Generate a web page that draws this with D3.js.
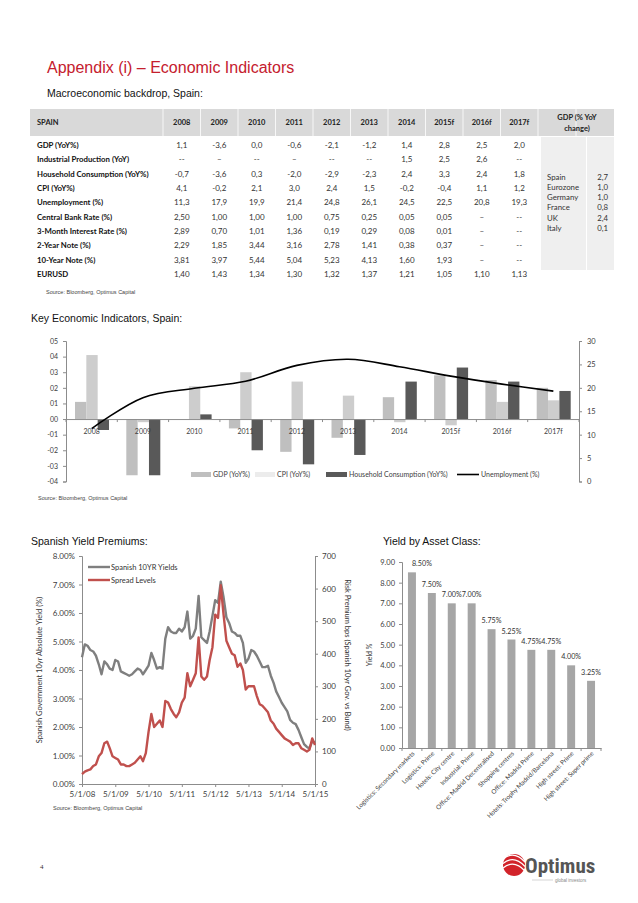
<!DOCTYPE html>
<html>
<head>
<meta charset="utf-8">
<script src="https://cdn.jsdelivr.net/npm/d3@7"></script>
<style>
body { margin: 0; background: #fff; }
svg { display: block; }
</style>
</head>
<body>
<svg id="root" width="638" height="903"></svg>
<script>
// ---- table data (as printed, decimal commas) ----
const years = ["2008", "2009", "2010", "2011", "2012", "2013", "2014", "2015f", "2016f", "2017f"];
const rowNames = [
    "GDP (YoY%)", "Industrial Production (YoY)", "Household Consumption (YoY%)", "CPI (YoY%)",
    "Unemployment (%)", "Central Bank Rate (%)", "3-Month Interest Rate (%)", "2-Year Note (%)",
    "10-Year Note (%)", "EURUSD",
];
const gdpRow = ["1,1", "-3,6", "0,0", "-0,6", "-2,1", "-1,2", "1,4", "2,8", "2,5", "2,0"];
const indRow = ["--", "–", "--", "–", "--", "--", "1,5", "2,5", "2,6", "--"];
const hhRow = ["-0,7", "-3,6", "0,3", "-2,0", "-2,9", "-2,3", "2,4", "3,3", "2,4", "1,8"];
const cpiRow = ["4,1", "-0,2", "2,1", "3,0", "2,4", "1,5", "-0,2", "-0,4", "1,1", "1,2"];
const unempRow = ["11,3", "17,9", "19,9", "21,4", "24,8", "26,1", "24,5", "22,5", "20,8", "19,3"];
const cbRow = ["2,50", "1,00", "1,00", "1,00", "0,75", "0,25", "0,05", "0,05", "–", "--"];
const m3Row = ["2,89", "0,70", "1,01", "1,36", "0,19", "0,29", "0,08", "0,01", "–", "--"];
const y2Row = ["2,29", "1,85", "3,44", "3,16", "2,78", "1,41", "0,38", "0,37", "–", "--"];
const y10Row = ["3,81", "3,97", "5,44", "5,04", "5,23", "4,13", "1,60", "1,93", "–", "--"];
const eurRow = ["1,40", "1,43", "1,34", "1,30", "1,32", "1,37", "1,21", "1,05", "1,10", "1,13"];
const gdpCountries = ["Spain", "Eurozone", "Germany", "France", "UK", "Italy"];
const gdpCountryValues = ["2,7", "1,0", "1,0", "0,8", "2,4", "0,1"];

// ---- key indicators chart ----
const leftTicks = [5, 4, 3, 2, 1, 0, -1, -2, -3, -4];
const rightTicks = [30, 25, 20, 15, 10, 5, 0];

// ---- yield premiums (monthly readings, May 2008 .. May 2015) ----
const yieldStart = "2008-05-01";
const spanishYield = [
    4.45, 4.90, 4.85, 4.70, 4.65, 4.50, 4.20, 3.85,
    4.30, 4.20, 4.05, 4.00, 4.35, 4.30, 3.95, 3.90, 3.85, 3.80, 3.85, 3.95,
    4.05, 4.00, 3.85, 4.00, 4.15, 4.60, 4.35, 4.05, 4.10, 4.05, 5.10, 5.50,
    5.35, 5.30, 5.30, 5.45, 5.35, 5.50, 6.05, 5.10, 5.20, 5.45, 6.60, 5.15,
    5.05, 4.95, 5.35, 5.90, 6.45, 6.35, 7.10, 6.55, 5.85, 5.65, 5.35, 5.30,
    5.20, 5.20, 4.95, 4.25, 4.40, 4.70, 4.65, 4.50, 4.30, 4.10, 4.10, 4.15,
    3.80, 3.55, 3.25, 3.05, 2.85, 2.70, 2.55, 2.25, 2.15, 2.10, 1.90, 1.65,
    1.40, 1.30, 1.25, 1.50, 1.45,
];
const spreadLevels = [
    30, 38, 42, 45, 55, 60, 85, 95,
    125, 130, 110, 85, 80, 75, 60, 60, 55, 55, 60, 65,
    75, 85, 70, 95, 160, 215, 175, 185, 195, 175, 255, 250,
    230, 215, 205, 220, 250, 265, 340, 300, 320, 340, 450, 330,
    320, 330, 380, 420, 520, 510, 610, 520, 440, 420, 400, 395,
    360, 370, 350, 290, 300, 300, 300, 270, 245, 240, 230, 220,
    195, 185, 170, 160, 150, 140, 135, 130, 120, 125, 125, 110,
    105, 100, 105, 140, 120,
];
const yieldTicks = [0, 1, 2, 3, 4, 5, 6, 7, 8];
const spreadTicks = [0, 100, 200, 300, 400, 500, 600, 700];

// ---- yield by asset class ----
const assetClasses = [
    "Logistics: Secondary markets", "Logistics: Prime", "Hotels: City centre", "Industrial: Prime",
    "Office: Madrid Decentralised", "Shopping centres", "Office: Madrid Prime",
    "Hotels: Trophy Madrid/Barcelona", "High street: Prime", "High street: Super prime",
];
const assetYields = [8.5, 7.5, 7.0, 7.0, 5.75, 5.25, 4.75, 4.75, 4.0, 3.25];
const assetTicks = [0, 1, 2, 3, 4, 5, 6, 7, 8, 9];

const toNum = (s) => +s.replace(",", ".");
const HEAD = "'Liberation Sans', Arial, sans-serif";
const BODY = "Lato, 'Open Sans', sans-serif";
const RED = "#c5202e";

const svg = d3.select("#root");
svg.append("rect").attr("width", 638).attr("height", 903).attr("fill", "#fff");

const text = (x, y, s, size, opts = {}) =>
    svg.append("text")
        .attr("x", x).attr("y", y)
        .attr("font-family", opts.family || BODY)
        .attr("font-size", size)
        .attr("font-weight", opts.weight || "normal")
        .attr("fill", opts.fill || "#222")
        .attr("text-anchor", opts.anchor || "start")
        .text(s);

const styleAxis = (g, size = 7.5) => {
    g.select(".domain").attr("stroke", "#8c8c8c");
    g.selectAll(".tick line").attr("stroke", "#8c8c8c");
    g.selectAll("text").attr("font-family", BODY).attr("font-size", size).attr("fill", "#404040");
};

// ---------- headings ----------
text(47, 73, "Appendix (i) – Economic Indicators", 16, { family: HEAD, fill: RED });
text(47, 97, "Macroeconomic backdrop, Spain:", 10.5, { family: HEAD, fill: "#111" });

// ---------- table ----------
const colX = d3.scaleBand().domain(years).range([163, 538]);
const colC = (y) => colX(y) + colX.bandwidth() / 2;

svg.append("rect").attr("x", 30).attr("y", 109).attr("width", 584).attr("height", 27).attr("fill", "#d9d9d9");
[163, ...years.map((y) => colX(y) + colX.bandwidth()), 576].forEach((x) =>
    svg.append("line").attr("x1", x).attr("x2", x).attr("y1", 109).attr("y2", 136)
        .attr("stroke", "#fff").attr("stroke-width", 0.8)
);
svg.append("rect").attr("x", 541).attr("y", 137).attr("width", 45).attr("height", 133).attr("fill", "#efefef");
svg.append("rect").attr("x", 587).attr("y", 137).attr("width", 27).attr("height", 133).attr("fill", "#efefef");

text(37, 125, "SPAIN", 7.5, { weight: "bold" });
years.forEach((y) => text(colC(y), 125, y, 7.5, { weight: "bold", anchor: "middle" }));
text(577, 120, "GDP (% YoY", 7.5, { weight: "bold", anchor: "middle" });
text(577, 131, "change)", 7.5, { weight: "bold", anchor: "middle" });

const tableRows = [gdpRow, indRow, hhRow, cpiRow, unempRow, cbRow, m3Row, y2Row, y10Row, eurRow];
const rowY = d3.scalePoint().domain(d3.range(rowNames.length)).range([148, 277]);
rowNames.forEach((name, i) => {
    text(37, rowY(i), name, 7.8, { weight: "bold", fill: "#111" });
    tableRows[i].forEach((v, j) => text(colC(years[j]), rowY(i), v, 8, { anchor: "middle", fill: "#333" }));
});

const cY = d3.scalePoint().domain(gdpCountries).range([179.5, 231]);
gdpCountries.forEach((c, i) => {
    text(547, cY(c), c, 7.8, { fill: "#333" });
    text(608, cY(c), gdpCountryValues[i], 7.8, { fill: "#333", anchor: "end" });
});

text(46, 294, "Source: Bloomberg, Optimus Capital", 5.5, { family: HEAD, fill: "#444" });

// ---------- key economic indicators ----------
text(31, 322, "Key Economic Indicators, Spain:", 10.5, { family: HEAD, fill: "#111" });

const x0 = d3.scaleBand().domain(years).range([66, 579]);
const x1 = d3.scaleBand().domain(["gdp", "cpi", "hh"]).range([9, 43]);
const yL = d3.scaleLinear().domain([-4, 5]).range([481.5, 341]);
const yR = d3.scaleLinear().domain([0, 30]).range([481.5, 341]);

const gL = svg.append("g").attr("transform", "translate(66,0)")
    .call(d3.axisLeft(yL).tickValues(leftTicks).tickSize(3).tickPadding(5)
        .tickFormat((d) => (d < 0 ? "-" : "") + "0" + Math.abs(d)));
styleAxis(gL, 7);
const gR = svg.append("g").attr("transform", "translate(579,0)")
    .call(d3.axisRight(yR).tickValues(rightTicks).tickSize(3).tickPadding(5));
styleAxis(gR, 7.5);

const series = [
    { key: "gdp", vals: gdpRow.map(toNum), color: "#bfbfbf" },
    { key: "cpi", vals: cpiRow.map(toNum), color: "#cdcdcd" },
    { key: "hh", vals: hhRow.map(toNum), color: "#595959" },
];
series.forEach((s) => {
    svg.append("g").selectAll("rect")
        .data(s.vals)
        .join("rect")
        .attr("x", (d, i) => x0(years[i]) + x1(s.key))
        .attr("y", (d) => yL(Math.max(0, d)))
        .attr("width", x1.bandwidth())
        .attr("height", (d) => Math.abs(yL(d) - yL(0)))
        .attr("fill", s.color);
});

// zero line with category labels
const gX = svg.append("g").attr("transform", `translate(0,${yL(0)})`)
    .call(d3.axisBottom(x0).tickSize(0).tickPadding(10));
styleAxis(gX, 7);
svg.append("g").selectAll("line")
    .data([...years.map((y) => x0(y)), 579])
    .join("line")
    .attr("x1", (d) => d).attr("x2", (d) => d)
    .attr("y1", yL(0)).attr("y2", yL(0) + 3)
    .attr("stroke", "#8c8c8c");

const unemp = unempRow.map(toNum);
svg.append("path")
    .datum(unemp)
    .attr("fill", "none")
    .attr("stroke", "#000")
    .attr("stroke-width", 1.6)
    .attr("d", d3.line()
        .x((d, i) => x0(years[i]) + x0.bandwidth() / 2)
        .y((d) => yR(d))
        .curve(d3.curveCatmullRom));

// legend
const lg = svg.append("g").attr("font-family", BODY).attr("font-size", 7).attr("fill", "#404040");
lg.append("rect").attr("x", 191).attr("y", 472).attr("width", 20).attr("height", 5).attr("fill", "#bfbfbf");
lg.append("text").attr("x", 213).attr("y", 477).text("GDP (YoY%)");
lg.append("rect").attr("x", 255).attr("y", 472).attr("width", 20).attr("height", 5).attr("fill", "#ececec");
lg.append("text").attr("x", 277).attr("y", 477).text("CPI (YoY%)");
lg.append("rect").attr("x", 326).attr("y", 472).attr("width", 21).attr("height", 5).attr("fill", "#595959");
lg.append("text").attr("x", 349).attr("y", 477).text("Household Consumption (YoY%)");
lg.append("line").attr("x1", 457).attr("x2", 479).attr("y1", 474.5).attr("y2", 474.5).attr("stroke", "#000").attr("stroke-width", 1.6);
lg.append("text").attr("x", 481).attr("y", 477).text("Unemployment (%)");

text(38, 500, "Source: Bloomberg, Optimus Capital", 5.5, { family: HEAD, fill: "#444" });

// ---------- spanish yield premiums ----------
text(31, 545, "Spanish Yield Premiums:", 10.5, { family: HEAD, fill: "#111" });

const start = new Date(yieldStart);
const months = spanishYield.map((_, i) => d3.timeMonth.offset(start, i));
const xT = d3.scaleTime().domain([new Date("2008-05-01"), new Date("2015-05-01")]).range([82, 315]);
const yY = d3.scaleLinear().domain([0, 8]).range([784, 556]);
const yS = d3.scaleLinear().domain([0, 700]).range([784, 556]);

const gYL = svg.append("g").attr("transform", "translate(82,0)")
    .call(d3.axisLeft(yY).tickValues(yieldTicks).tickSize(3).tickPadding(4).tickFormat((d) => d.toFixed(2) + "%"));
styleAxis(gYL, 8);
const gYR = svg.append("g").attr("transform", "translate(315,0)")
    .call(d3.axisRight(yS).tickValues(spreadTicks).tickSize(3).tickPadding(4));
styleAxis(gYR, 8);
const gYB = svg.append("g").attr("transform", "translate(0,784)")
    .call(d3.axisBottom(xT).tickValues(d3.range(8).map((i) => new Date(2008 + i, 4, 1)))
        .tickSize(3).tickPadding(4).tickFormat(d3.timeFormat("%-m/%-d/%y")));
styleAxis(gYB, 8);

svg.append("path").datum(spanishYield)
    .attr("fill", "none").attr("stroke", "#7f7f7f").attr("stroke-width", 2.4).attr("stroke-linejoin", "round")
    .attr("d", d3.line().x((d, i) => xT(months[i])).y((d) => yY(d)));
svg.append("path").datum(spreadLevels)
    .attr("fill", "none").attr("stroke", "#c0504d").attr("stroke-width", 2.4).attr("stroke-linejoin", "round")
    .attr("d", d3.line().x((d, i) => xT(months[i])).y((d) => yS(d)));

const lg2 = svg.append("g").attr("font-family", BODY).attr("font-size", 7.5).attr("fill", "#333");
lg2.append("line").attr("x1", 88).attr("x2", 110).attr("y1", 567).attr("y2", 567).attr("stroke", "#7f7f7f").attr("stroke-width", 2.4);
lg2.append("text").attr("x", 111).attr("y", 569.5).text("Spanish 10YR Yields");
lg2.append("line").attr("x1", 88).attr("x2", 110).attr("y1", 580).attr("y2", 580).attr("stroke", "#c0504d").attr("stroke-width", 2.4);
lg2.append("text").attr("x", 111).attr("y", 582.5).text("Spread Levels");

svg.append("text").attr("transform", "translate(42,670) rotate(-90)")
    .attr("text-anchor", "middle").attr("font-family", BODY).attr("font-size", 7.5).attr("fill", "#333")
    .text("Spanish Government 10yr Absolute Yield (%)");
svg.append("text").attr("transform", "translate(345,655) rotate(90)")
    .attr("text-anchor", "middle").attr("font-family", BODY).attr("font-size", 7.5).attr("fill", "#333")
    .text("Risk Premium bps (Spanish 10yr Gov. vs Bund)");

text(53, 810, "Source: Bloomberg, Optimus Capital", 5.5, { family: HEAD, fill: "#444" });

// ---------- yield by asset class ----------
text(383, 545, "Yield by Asset Class:", 10.5, { family: HEAD, fill: "#111" });

const xA = d3.scaleBand().domain(assetClasses).range([402, 601]).paddingInner(0.6).paddingOuter(0.3);
const yA = d3.scaleLinear().domain([0, 9]).range([748, 562]);

const gAL = svg.append("g").attr("transform", "translate(402,0)")
    .call(d3.axisLeft(yA).tickValues(assetTicks).tickSize(3).tickPadding(4).tickFormat((d) => d.toFixed(2)));
styleAxis(gAL, 7.5);
const gAB = svg.append("g").attr("transform", "translate(0,748)")
    .call(d3.axisBottom(xA).tickSize(0).tickFormat(""));
styleAxis(gAB);
svg.append("g").selectAll("line")
    .data(d3.range(assetClasses.length + 1))
    .join("line")
    .attr("x1", (i) => 402 + i * (199 / assetClasses.length))
    .attr("x2", (i) => 402 + i * (199 / assetClasses.length))
    .attr("y1", 748).attr("y2", 751).attr("stroke", "#8c8c8c");

svg.append("g").selectAll("rect")
    .data(assetYields)
    .join("rect")
    .attr("x", (d, i) => xA(assetClasses[i]))
    .attr("y", (d) => yA(d))
    .attr("width", xA.bandwidth())
    .attr("height", (d) => yA(0) - yA(d))
    .attr("fill", "#a6a6a6");

svg.append("g").selectAll("text")
    .data(assetYields)
    .join("text")
    .attr("x", (d, i) => xA(assetClasses[i]) + xA.bandwidth() / 2 + (i === 0 ? 10 : 0))
    .attr("y", (d) => yA(d) - 6)
    .attr("text-anchor", "middle")
    .attr("font-family", BODY).attr("font-size", 7.2).attr("fill", "#333")
    .text((d) => d.toFixed(2) + "%");

svg.append("g").selectAll("text")
    .data(assetClasses)
    .join("text")
    .attr("transform", (d) => `translate(${xA(d) + xA.bandwidth() / 2 + 3},754) rotate(-45)`)
    .attr("text-anchor", "end")
    .attr("font-family", BODY).attr("font-size", 6.3).attr("fill", "#404040")
    .text((d) => d);

svg.append("text").attr("transform", "translate(372,655) rotate(-90)")
    .attr("text-anchor", "middle").attr("font-family", BODY).attr("font-size", 7).attr("fill", "#333")
    .text("Yield %");

// ---------- footer ----------
text(40, 869, "4", 7, { family: "'Liberation Serif', serif", fill: "#333" });

const logo = svg.append("g").attr("transform", "translate(514,865)");
logo.append("circle").attr("r", 11).attr("fill", "#d2232a");
[-6, -1.5, 3].forEach((o) =>
    logo.append("path")
        .attr("d", `M${-11},${o} Q0,${o - 9} 11,${o + 3}`)
        .attr("fill", "none").attr("stroke", "#fff").attr("stroke-width", 1.3)
);
svg.append("text").attr("x", 525).attr("y", 873)
    .attr("font-family", "'Liberation Sans Narrow', 'Roboto', sans-serif")
    .attr("font-stretch", "condensed").attr("font-weight", "bold")
    .attr("font-size", 21).attr("fill", "#555").text("Optimus");
svg.append("line").attr("x1", 532).attr("x2", 553).attr("y1", 880).attr("y2", 880).attr("stroke", "#aaa").attr("stroke-width", 0.5);
text(555, 882, "global investors", 4.5, { family: HEAD, fill: "#888" });
</script>
</body>
</html>
